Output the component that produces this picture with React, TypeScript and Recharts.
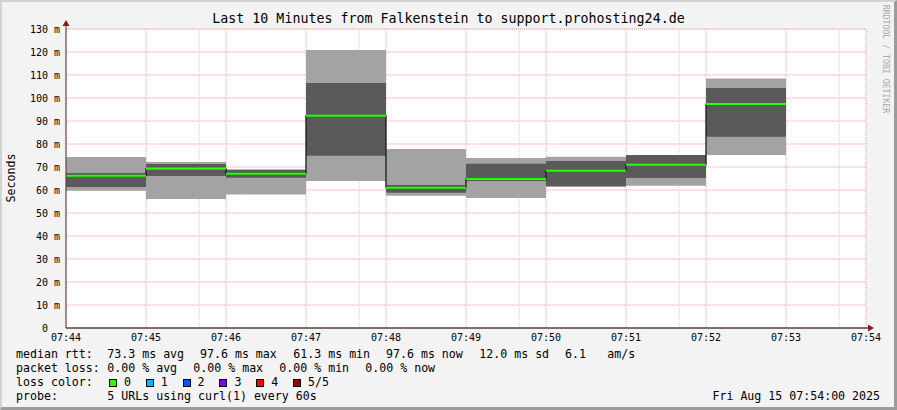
import React from 'react';
import {
  ComposedChart,
  Area,
  XAxis,
  YAxis,
  CartesianGrid,
  ReferenceDot,
} from 'recharts';

// one entry per minute bin, 07:44 .. 07:52 (07:53 has no data yet)
const minutes = [0, 1, 2, 3, 4, 5, 6, 7, 8];
const rttMin = [59.7, 56.1, 58.0, 63.9, 57.5, 56.5, 61.3, 61.9, 75.2];
const rttLow = [61.3, 66.1, 65.3, 74.9, 58.8, 63.9, 61.7, 65.2, 83.2];
const rttMedian = [66.2, 69.3, 67.1, 92.3, 61.0, 64.8, 68.4, 71.0, 97.4];
const rttHigh = [67.4, 71.3, 68.7, 106.5, 62.2, 71.4, 72.6, 75.2, 104.3];
const rttMax = [74.3, 72.2, 69.0, 120.9, 77.8, 73.9, 74.5, 75.2, 108.5];

const xTicks = [0, 1, 2, 3, 4, 5, 6, 7, 8, 9, 10];
const xTickLabels = ['07:44', '07:45', '07:46', '07:47', '07:48', '07:49', '07:50', '07:51', '07:52', '07:53', '07:54'];
const yTicks = [0, 10, 20, 30, 40, 50, 60, 70, 80, 90, 100, 110, 120, 130];
const majorX = [1, 2, 3, 4, 5, 6, 7, 8, 9];
const minorX = [1 / 3, 2 / 3, 4 / 3, 5 / 3, 7 / 3, 8 / 3, 10 / 3, 11 / 3, 13 / 3, 14 / 3, 16 / 3, 17 / 3, 19 / 3, 20 / 3, 22 / 3, 23 / 3, 25 / 3, 26 / 3, 28 / 3, 29 / 3];
const minorY = [5, 15, 25, 35, 45, 55, 65, 75, 85, 95, 105, 115, 125];

const lossColors = [
  { label: '0', color: '#26ff00' },
  { label: '1', color: '#00b8ff' },
  { label: '2', color: '#0059ff' },
  { label: '3', color: '#7e00ff' },
  { label: '4', color: '#ff0000' },
  { label: '5/5', color: '#a10000' },
];

const MEDIAN_HALF = 0.45; // half thickness of the median stroke, in ms

// step rows: each bin starts at its minute, last bin closed by a final row
const rows = [...minutes, minutes.length].map((x) => {
  const i = Math.min(x, minutes.length - 1);
  return {
    x,
    outer: [rttMin[i], rttMax[i]],
    inner: [rttLow[i], rttHigh[i]],
    median: rttMedian[i],
    medianBand: [rttMedian[i] - MEDIAN_HALF, rttMedian[i] + MEDIAN_HALF],
  };
});

const mono = '"DejaVu Sans Mono", monospace';

const textAt = (left: number, top: number, text: string, extra: React.CSSProperties = {}) => (
  <div
    style={{
      position: 'absolute',
      left,
      top,
      fontFamily: mono,
      fontSize: 11.6,
      lineHeight: '14px',
      whiteSpace: 'pre',
      color: '#000',
      ...extra,
    }}
  >
    {text}
  </div>
);

const YArrow = (props: any) => {
  const { cx, cy } = props;
  return (
    <g>
      <line x1={cx} y1={cy} x2={cx} y2={cy - 4} stroke="#5e2e2e" strokeWidth={1} />
      <path d={`M${cx - 3.5},${cy - 3} L${cx + 3.5},${cy - 3} L${cx},${cy - 9} Z`} fill="#8b1a1a" />
    </g>
  );
};

const XArrow = (props: any) => {
  const { cx, cy } = props;
  return (
    <g>
      <line x1={cx} y1={cy} x2={cx + 3} y2={cy} stroke="#000" strokeWidth={1} />
      <path d={`M${cx + 2},${cy - 3.5} L${cx + 2},${cy + 3.5} L${cx + 8},${cy} Z`} fill="#8b1a1a" />
    </g>
  );
};

export default function App() {
  return (
    <div style={{ position: 'relative', width: 897, height: 410, background: '#f3f3f3', overflow: 'hidden' }}>
      <style>{'body{margin:0}'}</style>
      <div
        style={{
          position: 'absolute',
          inset: 0,
          boxSizing: 'border-box',
          borderTop: '2px solid #d2d2d2',
          borderLeft: '2px solid #d2d2d2',
          borderRight: '3px solid #9c9c9c',
          borderBottom: '3px solid #9c9c9c',
        }}
      />
      <div style={{ position: 'absolute', left: 0, top: 0 }}>
        <ComposedChart
          width={897}
          height={410}
          data={rows}
          margin={{ top: 29, right: 31, bottom: 62, left: 0 }}
        >
          <CartesianGrid fill="#ffffff" horizontal={false} vertical={false} />
          <XAxis
            dataKey="x"
            type="number"
            domain={[0, 10]}
            ticks={xTicks}
            tickFormatter={(v: number) => xTickLabels[v]}
            interval={0}
            height={20}
            tickLine={false}
            tickSize={3}
            tickMargin={3}
            axisLine={{ stroke: '#000' }}
            tick={{ fontFamily: mono, fontSize: 10, fill: '#000' }}
          />
          <YAxis
            type="number"
            domain={[0, 130]}
            ticks={yTicks}
            interval={0}
            width={66}
            tickLine={false}
            tickSize={4}
            tickMargin={2}
            tickFormatter={(v: number) => (v === 0 ? '0\u00a0\u00a0' : `${v} m`)}
            axisLine={{ stroke: '#5e2e2e' }}
            tick={{ fontFamily: mono, fontSize: 10, fill: '#000' }}
          />
          <XAxis xAxisId="major" dataKey="x" type="number" domain={[0, 10]} ticks={majorX} hide />
          <XAxis xAxisId="minor" dataKey="x" type="number" domain={[0, 10]} ticks={minorX} hide />
          <YAxis yAxisId="minor" type="number" domain={[0, 130]} ticks={minorY} hide />

          <Area
            type="stepAfter"
            dataKey="outer"
            stroke="none"
            fill="#a3a3a3"
            fillOpacity={1}
            isAnimationActive={false}
          />
          <Area
            type="stepAfter"
            dataKey="inner"
            stroke="none"
            fill="#5a5a5a"
            fillOpacity={1}
            isAnimationActive={false}
          />

          <CartesianGrid
            xAxisId="minor"
            yAxisId="minor"
            stroke="#d4d4d4"
            strokeDasharray="1 1"
            fill="none"
          />
          <CartesianGrid
            xAxisId="major"
            stroke="#f2a6a6"
            strokeDasharray="1 1"
            fill="none"
          />

          <Area
            type="stepAfter"
            dataKey="median"
            stroke="#111"
            strokeWidth={1.2}
            fill="none"
            activeDot={false}
            isAnimationActive={false}
          />
          <Area
            type="stepAfter"
            dataKey="medianBand"
            stroke="none"
            fill="#26ff00"
            fillOpacity={1}
            activeDot={false}
            isAnimationActive={false}
          />

          <ReferenceDot x={0} y={130} r={0} ifOverflow="visible" shape={YArrow} />
          <ReferenceDot x={10} y={0} r={0} ifOverflow="visible" shape={XArrow} />
        </ComposedChart>
      </div>

      <div
        style={{
          position: 'absolute',
          left: 0,
          width: 897,
          top: 11,
          textAlign: 'center',
          fontFamily: mono,
          fontSize: 13.3,
          lineHeight: '16px',
          color: '#000',
        }}
      >
        Last 10 Minutes from Falkenstein to support.prohosting24.de
      </div>

      <div
        style={{
          position: 'absolute',
          left: 11,
          top: 178,
          transform: 'translate(-50%, -50%) rotate(-90deg)',
          fontFamily: mono,
          fontSize: 11.6,
          lineHeight: '14px',
          whiteSpace: 'pre',
        }}
      >
        Seconds
      </div>

      <div
        style={{
          position: 'absolute',
          left: 886,
          top: 59,
          transform: 'translate(-50%, -50%) rotate(90deg)',
          fontFamily: mono,
          fontSize: 8.2,
          lineHeight: '10px',
          whiteSpace: 'pre',
          color: '#aaaaaa',
        }}
      >
        RRDTOOL / TOBI OETIKER
      </div>

      {textAt(16, 347, 'median rtt:')}
      {textAt(107.3, 347, '73.3 ms avg')}
      {textAt(200, 347, '97.6 ms max')}
      {textAt(293.3, 347, '61.3 ms min')}
      {textAt(386, 347, '97.6 ms now')}
      {textAt(479.3, 347, '12.0 ms sd')}
      {textAt(565, 347, '6.1')}
      {textAt(607.3, 347, 'am/s')}

      {textAt(16, 361, 'packet loss:')}
      {textAt(107.3, 361, '0.00 % avg')}
      {textAt(193.3, 361, '0.00 % max')}
      {textAt(279.3, 361, '0.00 % min')}
      {textAt(365.3, 361, '0.00 % now')}

      {textAt(16, 375, 'loss color:')}
      {lossColors.map((c, i) => (
        <React.Fragment key={c.label}>
          <div
            style={{
              position: 'absolute',
              left: 109 + i * 36.8,
              top: 379,
              width: 6,
              height: 6,
              background: c.color,
              border: '1px solid #000',
            }}
          />
          {textAt(109 + i * 36.8 + 15, 375, c.label)}
        </React.Fragment>
      ))}

      {textAt(16, 389, 'probe:')}
      {textAt(107.3, 389, '5 URLs using curl(1) every 60s')}

      <div
        style={{
          position: 'absolute',
          right: 897 - 880,
          top: 389,
          fontFamily: mono,
          fontSize: 11.6,
          lineHeight: '14px',
          whiteSpace: 'pre',
        }}
      >
        Fri Aug 15 07:54:00 2025
      </div>
    </div>
  );
}
